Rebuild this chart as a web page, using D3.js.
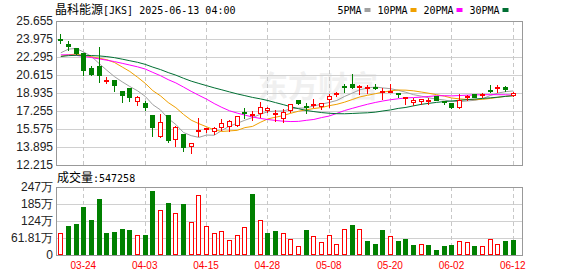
<!DOCTYPE html>
<html>
<head>
<meta charset="utf-8">
<script src="https://cdn.jsdelivr.net/npm/d3@7"></script>
<style>
  body { margin: 0; background: #fff; }
  text { font-family: "Liberation Sans", Arial, sans-serif; }
  .mono { font-family: "DejaVu Sans Mono", "Liberation Mono", monospace; }
  .cjk { font-family: "Noto Sans CJK SC", sans-serif; }
</style>
</head>
<body>
<svg id="chart" width="578" height="276"></svg>
<script>
var dates = ["2025-03-19","2025-03-20","2025-03-21","2025-03-24","2025-03-25","2025-03-26","2025-03-27","2025-03-28","2025-03-31",
  "2025-04-01","2025-04-02","2025-04-03","2025-04-04","2025-04-07","2025-04-08","2025-04-09","2025-04-10","2025-04-11","2025-04-14",
  "2025-04-15","2025-04-16","2025-04-17","2025-04-21","2025-04-22","2025-04-23","2025-04-24","2025-04-25","2025-04-28","2025-04-29",
  "2025-04-30","2025-05-01","2025-05-02","2025-05-05","2025-05-06","2025-05-07","2025-05-08","2025-05-09","2025-05-12","2025-05-13",
  "2025-05-14","2025-05-15","2025-05-16","2025-05-19","2025-05-20","2025-05-21","2025-05-22","2025-05-23","2025-05-27","2025-05-28",
  "2025-05-29","2025-05-30","2025-06-02","2025-06-03","2025-06-04","2025-06-05","2025-06-06","2025-06-09","2025-06-10","2025-06-11",
  "2025-06-12"];

var open  = [23.95,23.48,23.17,22.67,21.28,21.43,20.13,20.19,19.11,19.36,18.21,18.02,16.84,14.92,16.84,14.61,15.11,13.99,15.39,15.54,
  15.42,15.79,15.89,15.95,17.12,16.85,17.04,17.35,16.94,16.57,17.35,18.28,17.75,17.82,17.72,18.38,18.84,19.62,19.74,19.53,
  19.40,19.45,19.00,19.06,18.97,18.47,18.06,18.17,18.26,18.63,18.17,18.04,17.64,18.57,18.88,18.73,19.25,19.41,19.50,18.73];
var high  = [24.53,23.85,23.23,22.77,21.59,23.29,20.50,20.22,19.20,19.42,18.71,18.24,17.00,17.09,16.94,15.92,15.17,14.30,16.73,15.80,
  15.85,16.57,16.48,16.88,17.62,17.33,18.20,17.70,17.45,17.50,18.03,18.34,18.13,18.50,18.13,18.92,19.15,19.88,20.83,19.80,
  19.78,19.90,19.46,19.90,19.06,18.66,18.53,18.50,18.57,18.66,18.32,18.04,18.94,18.82,18.94,19.04,19.81,19.75,19.66,19.13];
var low   = [23.58,22.98,22.60,20.66,20.66,19.95,19.85,19.11,18.09,18.15,17.78,17.34,14.92,14.80,14.36,13.99,13.55,13.37,14.92,15.30,
  15.11,15.48,15.39,15.89,16.60,16.42,16.73,17.20,16.30,16.20,17.19,17.94,17.10,17.66,17.47,17.60,18.69,19.05,19.37,18.80,
  18.90,19.35,18.40,19.00,18.60,17.88,17.85,17.95,17.95,18.26,17.95,17.58,17.58,18.32,18.55,18.57,19.04,19.04,19.13,18.70];
var close = [23.91,23.32,22.64,21.12,20.75,20.57,20.19,19.67,18.71,18.55,18.58,17.62,15.76,16.26,14.55,15.79,13.87,14.30,15.45,15.64,
  15.70,16.10,16.32,16.79,17.06,16.95,17.60,17.57,17.04,17.13,17.91,17.97,17.66,17.95,18.00,18.69,18.90,19.53,19.50,19.59,
  19.46,19.40,19.09,19.15,18.84,18.53,18.28,18.42,18.32,18.30,18.08,17.64,18.32,18.63,18.60,18.82,19.13,19.47,19.28,18.94];
// volume in 万 shares
var volume = [80,105,114,174.5,127,203.6,81,85,94.5,91,73,72,232.7,163.6,190,152.7,186.5,120,218,105,
  80,87,54.5,71.5,100.6,223,127,81,88,80,57,33,91,69,47,71.5,39,93.5,109,93.5,
  52,40,91,68,52,58,36,40,36,18,33,36,51,47,33,31.6,58,40,51,54.7];
// closes of the 29 sessions before the window (only feed the moving averages)
var earlierCloses = [21.2,21.5,21.4,21.3,21.6,22.1,22.6,22.9,23.0,22.9,23.4,23.6,23.1,22.9,23.0,
  22.6,22.3,21.9,21.8,21.9,21.7,22.1,22.4,21.9,21.9,21.62,22.29,22.87,22.76];

var priceTicks = [12.215,13.895,15.575,17.255,18.935,20.615,22.295,23.975,25.655];
var volTicks = [0,61.81,123.62,185.43,247.24];
var volTickLabels = ["0","61.81万","124万","185万","247万"];
var dateTicks = ["2025-03-24","2025-04-03","2025-04-15","2025-04-28","2025-05-08","2025-05-20","2025-06-02","2025-06-12"];
var maPeriods = [5,10,20,30];
var maNames = ["5PMA","10PMA","20PMA","30PMA"];
var maColors = ["#a0a0a0","#f0a000","#ff00ff","#006f33"];

var red = "#ff0000", green = "#008000";
var left = 56, right = 522;
var mainTop = 21, mainBot = 165, volTop = 187, volBot = 255;

var svg = d3.select("#chart");

var x = d3.scaleBand().domain(dates).range([left + 0.5, 516.6]);
var y = d3.scaleLinear().domain([12.215, 25.655]).range([mainBot, mainTop]);
var yv = d3.scaleLinear().domain([0, 247.24]).range([volBot, volTop]);

function cx(d) { return Math.round(x(d) + x.bandwidth() / 2) + 0.5; }
function py(v) { return Math.round(y(v)) + 0.5; }

// faint watermark
svg.append("text")
  .attr("class", "cjk")
  .attr("x", 318).attr("y", 97)
  .attr("text-anchor", "middle")
  .attr("font-size", 30)
  .attr("font-weight", "bold")
  .attr("fill", "#f0f0f0")
  .text("东方财富");

// horizontal grid
svg.append("g")
  .selectAll("line")
  .data(priceTicks.slice(1, -1))
  .join("line")
  .attr("x1", left).attr("x2", right)
  .attr("y1", function(d) { return py(d); })
  .attr("y2", function(d) { return py(d); })
  .attr("stroke", "#d0d0d0");

svg.append("g")
  .selectAll("line")
  .data(volTicks.slice(1, -1))
  .join("line")
  .attr("x1", left).attr("x2", right)
  .attr("y1", function(d) { return Math.round(yv(d)) + 0.5; })
  .attr("y2", function(d) { return Math.round(yv(d)) + 0.5; })
  .attr("stroke", "#d0d0d0");

// vertical dashed grid in both panels
[[mainTop, mainBot], [volTop, volBot]].forEach(function(p) {
  svg.append("g")
    .selectAll("line")
    .data(dateTicks)
    .join("line")
    .attr("x1", cx).attr("x2", cx)
    .attr("y1", p[0]).attr("y2", p[1])
    .attr("stroke", "#c8c8c8")
    .attr("stroke-dasharray", "4,3");
});

// frames
svg.append("rect")
  .attr("x", left + 0.5).attr("y", mainTop + 0.5)
  .attr("width", right - left).attr("height", mainBot - mainTop)
  .attr("fill", "none").attr("stroke", "#999");
svg.append("rect")
  .attr("x", left + 0.5).attr("y", volTop + 0.5)
  .attr("width", right - left).attr("height", volBot - volTop)
  .attr("fill", "none").attr("stroke", "#999");

// moving averages
var allCloses = earlierCloses.concat(close);
var off = earlierCloses.length;
maPeriods.forEach(function(n, k) {
  var ma = close.map(function(c, i) {
    return d3.mean(allCloses.slice(i + off - n + 1, i + off + 1));
  });
  var line = d3.line()
    .x(function(d, i) { return x(dates[i]) + x.bandwidth() / 2 + 0.5; })
    .y(function(d) { return y(d); });
  svg.append("path")
    .datum(ma)
    .attr("d", line)
    .attr("fill", "none")
    .attr("stroke", maColors[k])
    .attr("stroke-width", 1);
});

// candles
var idx = d3.range(dates.length);
var candles = svg.append("g").attr("shape-rendering", "crispEdges");

candles.selectAll("line")
  .data(idx)
  .join("line")
  .attr("x1", function(i) { return cx(dates[i]); })
  .attr("x2", function(i) { return cx(dates[i]); })
  .attr("y1", function(i) { return py(high[i]); })
  .attr("y2", function(i) { return py(low[i]); })
  .attr("stroke", function(i) { return close[i] >= open[i] ? red : green; });

candles.selectAll("rect")
  .data(idx)
  .join("rect")
  .attr("x", function(i) { return cx(dates[i]) - 2; })
  .attr("width", 4)
  .attr("y", function(i) { return py(Math.max(open[i], close[i])); })
  .attr("height", function(i) {
    return Math.max(1, py(Math.min(open[i], close[i])) - py(Math.max(open[i], close[i])));
  })
  .attr("fill", function(i) { return close[i] >= open[i] ? "#fff" : green; })
  .attr("stroke", function(i) { return close[i] >= open[i] ? red : green; });

// volume bars, coloured by change against the previous close
var vols = svg.append("g").attr("shape-rendering", "crispEdges");
vols.selectAll("rect")
  .data(idx)
  .join("rect")
  .attr("x", function(i) { return cx(dates[i]) - 2; })
  .attr("width", 4)
  .attr("y", function(i) { return Math.round(yv(volume[i])) + 0.5; })
  .attr("height", function(i) { return volBot - Math.round(yv(volume[i])) - 1; })
  .attr("fill", function(i) {
    var prev = i > 0 ? close[i - 1] : earlierCloses[earlierCloses.length - 1];
    return close[i] >= prev ? "#fff" : green;
  })
  .attr("stroke", function(i) {
    var prev = i > 0 ? close[i - 1] : earlierCloses[earlierCloses.length - 1];
    return close[i] >= prev ? red : green;
  });

// axes
var yAxis = svg.append("g")
  .attr("transform", "translate(" + (left - 2) + ",0)")
  .call(d3.axisLeft(y).tickValues(priceTicks).tickSize(0).tickPadding(1)
    .tickFormat(d3.format(".3f")));
yAxis.select(".domain").remove();
yAxis.selectAll("text").attr("font-size", 12).attr("fill", "#222")
  .attr("font-family", "Liberation Sans, Arial, sans-serif");

var vAxis = svg.append("g")
  .attr("transform", "translate(" + (left - 2) + ",0)")
  .call(d3.axisLeft(yv).tickValues(volTicks).tickSize(0).tickPadding(1)
    .tickFormat(function(d, i) { return volTickLabels[i]; }));
vAxis.select(".domain").remove();
vAxis.selectAll("text").attr("font-size", 12).attr("fill", "#222")
  .attr("font-family", "Liberation Sans, Arial, sans-serif");

var xAxis = svg.append("g")
  .attr("transform", "translate(0," + volBot + ")")
  .call(d3.axisBottom(x).tickValues(dateTicks).tickSize(0).tickPadding(7)
    .tickFormat(function(d) { return d.slice(5); }));
xAxis.select(".domain").remove();
xAxis.selectAll("text").attr("font-size", 10).attr("fill", red)
  .attr("font-family", "DejaVu Sans Mono, monospace");

// title
var title = svg.append("text").attr("x", left - 1).attr("y", 13.5).attr("font-size", 12);
title.append("tspan").attr("class", "cjk").text("晶科能源");
title.append("tspan").attr("class", "mono").attr("font-size", 10).text("[JKS] 2025-06-13 04:00");

// legend
var lx = 337.5;
maNames.forEach(function(name, k) {
  svg.append("text")
    .attr("class", "mono")
    .attr("x", lx).attr("y", 13.5)
    .attr("font-size", 10)
    .attr("fill", "#000")
    .text(name);
  lx += name.length * 6 + 3;
  svg.append("rect")
    .attr("x", lx).attr("y", 8)
    .attr("width", 6).attr("height", 4)
    .attr("fill", maColors[k]);
  lx += 13;
});

// volume caption
var cap = svg.append("text").attr("x", left + 1).attr("y", 182).attr("font-size", 12);
cap.append("tspan").attr("class", "cjk").text("成交量");
cap.append("tspan").attr("class", "mono").attr("font-size", 10).text(":547258");
</script>
</body>
</html>
